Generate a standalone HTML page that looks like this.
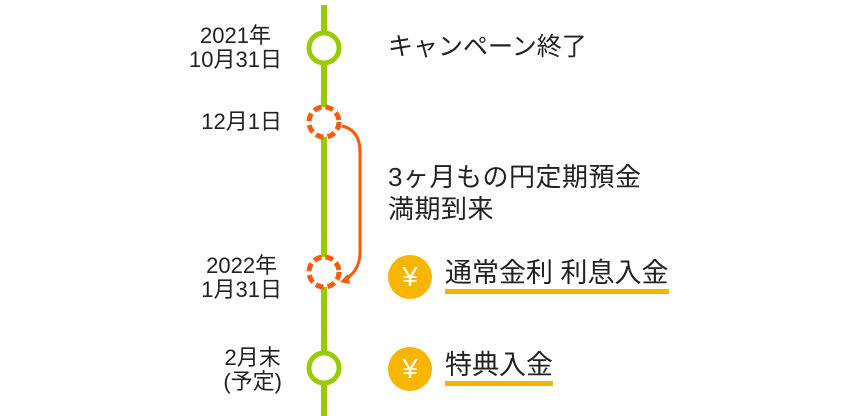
<!DOCTYPE html>
<html><head><meta charset="utf-8"><style>
body{margin:0;width:868px;height:416px;background:#fff;position:relative;overflow:hidden;font-family:"Liberation Sans","Noto Sans CJK JP",sans-serif;color:#222}
.l{position:absolute;right:586px;text-align:center;font-size:22px;line-height:24px;white-space:nowrap}
.t{position:absolute;left:388px;font-size:25px;line-height:32px;white-space:nowrap}
.u{position:absolute;left:445px;font-size:27px;line-height:32px;white-space:nowrap;border-bottom:5px solid #f5b400}
.y{position:absolute;width:44px;height:44px;border-radius:50%;background:#f7b500;color:#fff;font-size:28px;line-height:44px;text-align:center;left:388px}
</style></head><body>
<svg width="868" height="416" style="position:absolute;left:0;top:0">
<line x1="324" y1="5" x2="324" y2="416" stroke="#99cc00" stroke-width="6"/>
<circle cx="324" cy="48" r="15" fill="#fff" stroke="#99cc00" stroke-width="5"/>
<circle cx="324" cy="368" r="15" fill="#fff" stroke="#99cc00" stroke-width="5"/>
<circle cx="324" cy="122" r="15" fill="#fff" stroke="#ff5a0a" stroke-width="5" stroke-dasharray="8 4"/>
<circle cx="324" cy="272" r="15" fill="#fff" stroke="#ff5a0a" stroke-width="5" stroke-dasharray="8 4"/>
<path d="M342 126 Q360 130 360 152 L360 252 Q360 270 346 279" fill="none" stroke="#ff5a0a" stroke-width="3"/>
<polygon points="340,282 348,274 350,284" fill="#ff5a0a"/>
</svg>
<div class="l" style="top:24px">2021年<br>10月31日</div>
<div class="l" style="top:110px">12月1日</div>
<div class="l" style="top:254px">2022年<br>1月31日</div>
<div class="l" style="top:346px">2月末<br>(予定)</div>
<div class="t" style="top:31px">キャンペーン終了</div>
<div class="t" style="top:161px;font-size:26px;letter-spacing:0.5px">3ヶ月もの円定期預金<br>満期到来</div>
<div class="y" style="top:255px">¥</div>
<div class="y" style="top:347px">¥</div>
<div class="u" style="top:257px">通常金利 利息入金</div>
<div class="u" style="top:349px">特典入金</div>
</body></html>
